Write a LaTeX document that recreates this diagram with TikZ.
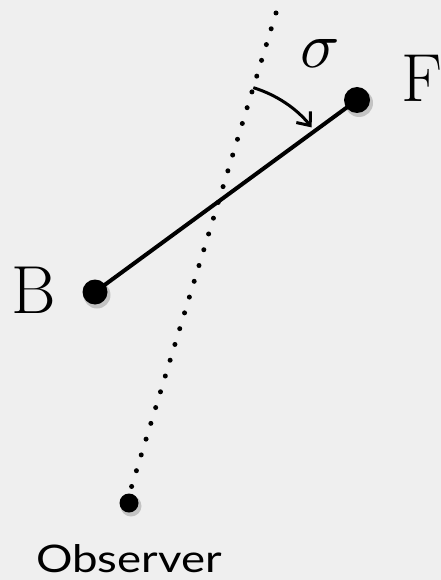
\documentclass[tikz,border=0pt]{standalone}
\usepackage{graphicx}
\usepackage{fontspec}
\newfontfamily\obsfont[FakeStretch=1.2]{Lato}
\usetikzlibrary{arrows.meta,calc}
\definecolor{bgc}{RGB}{239,239,239}
\tikzset{
  bigdot/.style={circle,fill=black,inner sep=0pt,minimum size=#1},
  dotshadow/.style={circle,fill=black,fill opacity=0.18,inner sep=0pt,minimum size=#1},
  letter/.style={inner sep=0pt,anchor=base west,font=\fontsize{68}{68}\selectfont},
  dotline/.style={line width=5pt,line cap=round,dash pattern=on 0pt off 16.5pt},
}
\begin{document}
\begin{tikzpicture}[x=1pt,y=-1pt]
\fill[bgc] (0,0) rectangle (441,580);
\useasboundingbox (0,0) rectangle (441,580);
% shadows
\node[dotshadow=28pt] (Fs) at (359,103) {};
\node[dotshadow=27pt] (Bs) at (97,295) {};
\node[dotshadow=21pt] (Os) at (131,506) {};
% points
\coordinate (top) at (276,13);
\coordinate (obsend) at (122,518);
\node[bigdot=26pt] (F) at (357,100) {};
\node[bigdot=25pt] (B) at (95,292) {};
\node[bigdot=19pt] (O) at (129,503) {};
% dotted line of sight
\draw[dotline] (top) -- (obsend);
% body line
\draw[line width=4pt] (B.center) -- (F.center);
% angle arrow
\coordinate (X) at (intersection of B--F and top--obsend);
\draw[line width=3pt,-{Straight Barb[length=11pt,width=18pt,line width=3pt]}]
  ($(X)+(73:119 and -119)$) arc[start angle=-73,end angle=-38.5,radius=119];
% labels
\node[letter] (Flab) at (401,102) {F};
\node[letter] (Blab) at (11,313) {B};
\node[inner sep=0pt,anchor=base west] (sig) at (300,68) {\scalebox{6.5}{$\sigma$}};
\node[inner sep=0pt,anchor=base,font=\obsfont\fontsize{38}{38}\selectfont] (obs) at (129,572) {Observer};
\end{tikzpicture}
\end{document}
